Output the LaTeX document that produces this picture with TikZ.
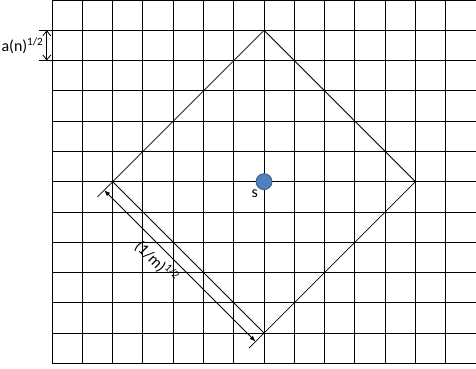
\documentclass[tikz,border=0pt]{standalone}
\usepackage{fontspec}
\setmainfont{Carlito}
\usepackage{tikz}
\usetikzlibrary{arrows.meta,calc,positioning}
\definecolor{dotblue}{RGB}{79,129,189}
\definecolor{dotedge}{RGB}{56,93,138}

\begin{document}
\begin{tikzpicture}[
  x=30.25bp, y=30.25bp,
  gridline/.style={line width=0.9bp, black},
  side/.style={line width=0.8bp, black},
  dot/.style={circle, draw=dotedge, fill=dotblue, line width=0.8bp, minimum size=16bp, inner sep=0pt},
  labeltxt/.style={font=\fontsize{16}{19}\selectfont, inner sep=1bp},
  dimarrow/.style={side, {Latex[length=6bp]}-{Latex[length=6bp]}},
  cellarrow/.style={side, {Straight Barb[length=5bp, width=8bp]}-{Straight Barb[length=5bp, width=8bp]}}
]
  \useasboundingbox (-1.72,-0.17) rectangle (14,12);
  \draw[gridline, step={(1,1)}] (0,0) grid (14,12);

  % the square around s
  \coordinate (top)    at (7,11);
  \coordinate (right)  at (12,6);
  \coordinate (bottom) at (7,1);
  \coordinate (left)   at (2,6);
  \draw[side] (top) -- (right) -- (bottom) -- (left) -- cycle;

  \node[dot] (s) at (7,6) {};
  \node[labeltxt, below left=1bp and -1bp of s] (s label) {s};

  % side length
  \draw[side] (left) -- ++(-0.5,-0.5);
  \draw[side] (bottom) -- ++(-0.5,-0.5);
  \coordinate (dim start) at ($(left)+(-0.28,-0.28)$);
  \coordinate (dim end)   at ($(bottom)+(-0.28,-0.28)$);
  \draw[dimarrow] (dim start) -- node[labeltxt, sloped, below=4bp, pos=0.41] (side label) {(1/m)\textsuperscript{1/2}} (dim end);

  % cell size
  \draw[side] (0,11) -- ++(-0.43,0);
  \draw[side] (0,10) -- ++(-0.43,0);
  \coordinate (cell top) at (-0.175,11);
  \coordinate (cell bot) at (-0.175,10);
  \draw[cellarrow] (cell top) -- node[labeltxt, left=2bp] (cell label) {a(n)\textsuperscript{1/2}} (cell bot);
\end{tikzpicture}
\end{document}
